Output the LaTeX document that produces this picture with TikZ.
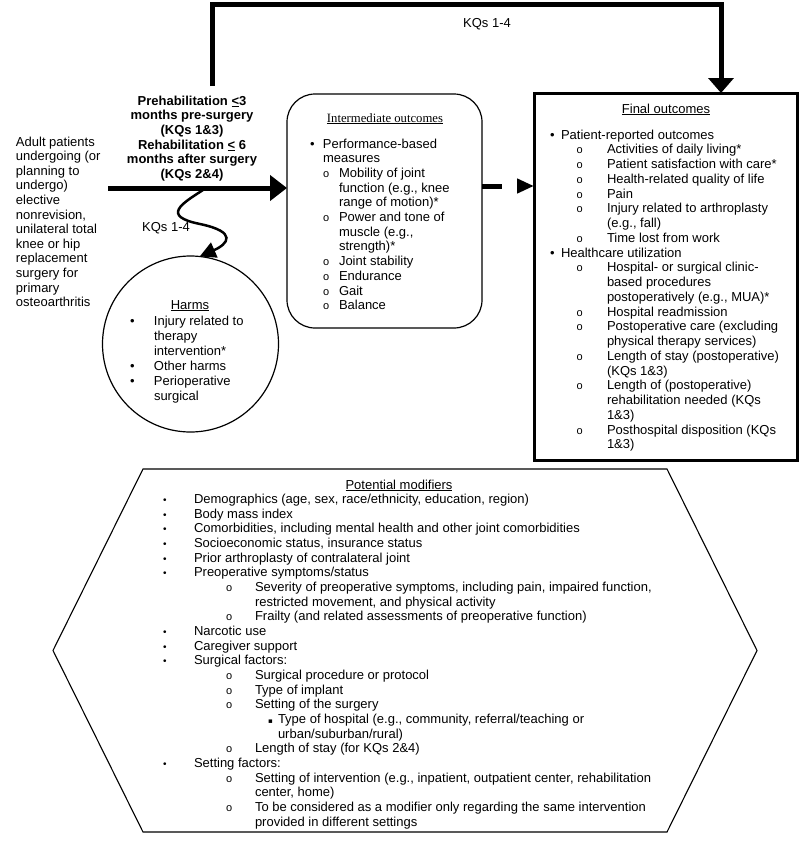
\documentclass[tikz,border=0pt]{standalone}
\usepackage{fontspec}
\setmainfont{Liberation Sans}
\newfontfamily\serifface{Liberation Serif}
\newfontfamily\dvface{DejaVu Sans}
\usetikzlibrary{arrows.meta}
\newcommand\ob{{\fontsize{11}{11}\selectfont o}}
\newcommand\smb{{\fontsize{10}{10}\selectfont •}}
\newcommand\sqb{{\dvface\fontsize{7}{7}\selectfont ▪}}
\newcommand\mc[2]{\multicolumn{#1}{@{}l@{}}{#2}}
\begin{document}
\begin{tikzpicture}[x=1pt,y=-1pt,
  every node/.style={inner sep=0pt, outer sep=0pt},
  txt/.style={anchor=base west, font=\fontsize{13}{#1}\selectfont},
  ttl/.style={anchor=base, font=\fontsize{13}{14.7}\selectfont},
  thinline/.style={draw, line width=1.2pt},
  bigarrow/.style={line width=5pt, line join=miter, -{Triangle[length=17pt,width=25pt]}},
  wavearrow/.style={line width=2.5pt, -{Triangle[length=16pt,width=16pt]}},
  dasharrow/.style={line width=5pt, dash pattern=on 20pt off 40pt, -{Triangle[length=17pt,width=14pt]}}
]
\useasboundingbox (0,0) rectangle (800,841);

% ---------- boxes ----------
\node[thinline, rounded corners=28pt, minimum width=195pt, minimum height=234pt] (inter) at (384.5,211) {};
\node[draw, line width=3pt, minimum width=263pt, minimum height=367pt] (final) at (665.5,276.5) {};
\node[thinline, circle, minimum size=176pt] (harms) at (190.5,344) {};
\draw[line width=1.1pt] (143,469) -- (667,469) -- (757,650.5) -- (667,832) -- (143,832) -- (53,650.5) -- cycle;

% ---------- left text ----------
\node[txt=14.6] (patients) at (16,146) {\begin{tabular}[t]{@{}l@{}}
Adult patients\\
undergoing (or\\
planning to\\
undergo)\\
elective\\
nonrevision,\\
unilateral total\\
knee or hip\\
replacement\\
surgery for\\
primary\\
osteoarthritis
\end{tabular}};

\node[anchor=base, font=\bfseries\fontsize{13}{14.7}\selectfont] (interv) at (192,105) {\begin{tabular}[t]{@{}c@{}}
Prehabilitation \underline{<}3\\
months pre-surgery\\
(KQs 1\&3)\\
Rehabilitation \underline{<} 6\\
months after surgery\\
(KQs 2\&4)
\end{tabular}};

\node[ttl] (kqtop) at (487,27.5) {KQs 1-4};
\node[ttl] (kqwave) at (166,231.5) {KQs 1-4};

% ---------- connectors ----------
\coordinate (c1) at (212,86);
\coordinate (c2) at (212,4);
\coordinate (c3) at (721,4);
\draw[bigarrow, -{Triangle[length=15pt,width=25pt]}] (c1) -- (c2) -- (c3) -- (c3 |- final.north);

\coordinate (m1) at (108,188);
\draw[bigarrow] (m1) -- (m1 -| inter.west);

\coordinate (d1) at (482,186);
\draw[dasharrow] (d1) -- (d1 -| final.west);

\coordinate (w1) at (203,190);
\draw[wavearrow] (w1) .. controls (183,203) and (160,216) .. (200,224)
  .. controls (238,232) and (228,244) .. (harms.84);

% ---------- intermediate outcomes ----------
\node[anchor=base, font=\serifface\fontsize{12.7}{14}\selectfont] (intert) at (385,122) {\underline{Intermediate outcomes}};
\node[txt=14.7] (interl) at (310,148) {\begin{tabular}[t]{@{}p{13pt}@{}p{16pt}@{}l@{}}
• & \mc{2}{Performance-based}\\
 & \mc{2}{measures}\\
 & \ob & Mobility of joint\\
 & & function (e.g., knee\\
 & & range of motion)*\\
 & \ob & Power and tone of\\
 & & muscle (e.g.,\\
 & & strength)*\\
 & \ob & Joint stability\\
 & \ob & Endurance\\
 & \ob & Gait\\
 & \ob & Balance
\end{tabular}};

% ---------- harms ----------
\node[ttl] (harmst) at (190,309) {\underline{Harms}};
\node[txt=15] (harmsl) at (130,325) {\begin{tabular}[t]{@{}p{24pt}@{}l@{}}
• & Injury related to\\
 & therapy\\
 & intervention*\\
• & Other harms\\
• & Perioperative\\
 & surgical
\end{tabular}};

% ---------- final outcomes ----------
\node[ttl] (finalt) at (666,113) {\underline{Final outcomes}};
\node[txt=14.76] (finall) at (550,139) {\begin{tabular}[t]{@{}p{11pt}@{}p{15.5pt}@{}p{30.5pt}@{}l@{}}
• & \mc{3}{Patient-reported outcomes}\\
 & & \ob & Activities of daily living*\\
 & & \ob & Patient satisfaction with care*\\
 & & \ob & Health-related quality of life\\
 & & \ob & Pain\\
 & & \ob & Injury related to arthroplasty\\
 & & & (e.g., fall)\\
 & & \ob & Time lost from work\\
• & \mc{3}{Healthcare utilization}\\
 & & \ob & Hospital- or surgical clinic-\\
 & & & based procedures\\
 & & & postoperatively (e.g., MUA)*\\
 & & \ob & Hospital readmission\\
 & & \ob & Postoperative care (excluding\\
 & & & physical therapy services)\\
 & & \ob & Length of stay (postoperative)\\
 & & & (KQs 1\&3)\\
 & & \ob & Length of (postoperative)\\
 & & & rehabilitation needed (KQs\\
 & & & 1\&3)\\
 & & \ob & Posthospital disposition (KQs\\
 & & & 1\&3)
\end{tabular}};

% ---------- potential modifiers ----------
\node[ttl] (modt) at (399,489) {\underline{Potential modifiers}};
\node[txt=14.67] (modl) at (163,503.4) {\begin{tabular}[t]{@{}p{31pt}@{}p{32pt}@{}p{29pt}@{}p{13pt}@{}p{10pt}@{}l@{}}
\smb & \mc{5}{Demographics (age, sex, race/ethnicity, education, region)}\\
\smb & \mc{5}{Body mass index}\\
\smb & \mc{5}{Comorbidities, including mental health and other joint comorbidities}\\
\smb & \mc{5}{Socioeconomic status, insurance status}\\
\smb & \mc{5}{Prior arthroplasty of contralateral joint}\\
\smb & \mc{5}{Preoperative symptoms/status}\\
 & & \ob & \mc{3}{Severity of preoperative symptoms, including pain, impaired function,}\\
 & & & \mc{3}{restricted movement, and physical activity}\\
 & & \ob & \mc{3}{Frailty (and related assessments of preoperative function)}\\
\smb & \mc{5}{Narcotic use}\\
\smb & \mc{5}{Caregiver support}\\
\smb & \mc{5}{Surgical factors:}\\
 & & \ob & \mc{3}{Surgical procedure or protocol}\\
 & & \ob & \mc{3}{Type of implant}\\
 & & \ob & \mc{3}{Setting of the surgery}\\
 & & & & \sqb & Type of hospital (e.g., community, referral/teaching or\\
 & & & & & urban/suburban/rural)\\
 & & \ob & \mc{3}{Length of stay (for KQs 2\&4)}\\
\smb & \mc{5}{Setting factors:}\\
 & & \ob & \mc{3}{Setting of intervention (e.g., inpatient, outpatient center, rehabilitation}\\
 & & & \mc{3}{center, home)}\\
 & & \ob & \mc{3}{To be considered as a modifier only regarding the same intervention}\\
 & & & \mc{3}{provided in different settings}
\end{tabular}};
\end{tikzpicture}
\end{document}
